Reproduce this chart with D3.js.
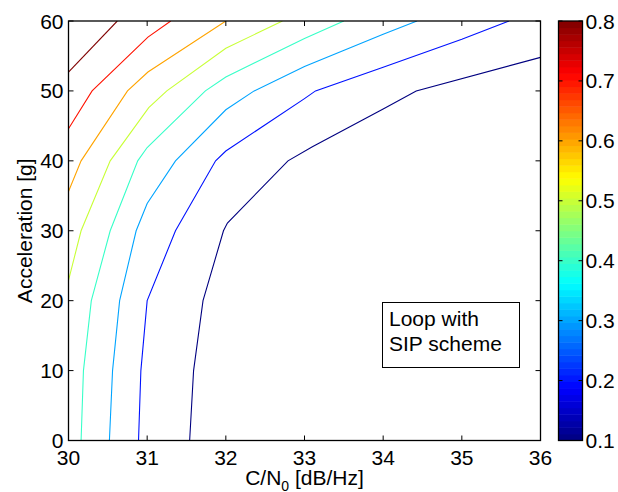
<!DOCTYPE html>
<html>
<head>
<meta charset="utf-8">
<script src="https://cdn.jsdelivr.net/npm/d3@7"></script>
<style>
  body { margin: 0; background: #fff; }
  text { font-family: "Liberation Sans", Arial, Helvetica, sans-serif; fill: #000; }
</style>
</head>
<body>
<script>
var width = 618,
    height = 492;

// plot box
var plotLeft = 68.5, plotRight = 540.5, plotTop = 21, plotBottom = 440.5;
var fontSize = 21;

// tick values
var xTicks = [30, 31, 32, 33, 34, 35, 36];
var yTicks = [0, 10, 20, 30, 40, 50, 60];
var cbTicks = [0.1, 0.2, 0.3, 0.4, 0.5, 0.6, 0.7, 0.8];

// contour levels and their lines, [C/N0, acceleration] pairs
var levels = [0.1, 0.2, 0.3, 0.4, 0.5, 0.6, 0.7, 0.8];

var line01 = [[31.54,0],[31.59,10],[31.71,20],[31.97,30],[32.02,31.1],[32.79,40],[33.1,42],[34.0,47.4],[34.42,50],[36,54.8]];
var line02 = [[30.89,0],[30.92,10],[31.0,20],[31.36,30],[31.87,40],[32.0,41.4],[33.0,48.9],[33.14,50],[34,53.4],[35,57.4],[35.6,60]];
var line03 = [[30.52,0],[30.56,10],[30.65,20],[30.86,30],[31.0,33.9],[31.36,40],[32,47.3],[32.36,50],[33.0,53.5],[34,58.1],[34.43,60]];
var line04 = [[30.16,0],[30.19,10],[30.29,20],[30.53,30],[30.88,40],[31.0,41.9],[31.74,50],[32.0,52],[33.0,57.5],[33.5,60]];
var line05 = [[30,22.9],[30.16,30],[30.53,40],[31.02,47.6],[31.25,50],[32,56.1],[32.72,60]];
var line06 = [[30,35.6],[30.16,40],[30.75,50],[31.01,52.7],[32,60]];
var line07 = [[30,44.6],[30.3,50],[31.01,57.7],[31.3,60]];
var line08 = [[30,52.7],[30.62,60]];

var contourLines = [line01, line02, line03, line04, line05, line06, line07, line08];

var legendLines = ["Loop with", "SIP scheme"];

// matlab jet
function jet(t) {
  function c(v) { return Math.max(0, Math.min(1, v)); }
  var r = c(1.5 - Math.abs(4*t - 3)),
      g = c(1.5 - Math.abs(4*t - 2)),
      b = c(1.5 - Math.abs(4*t - 1));
  return d3.rgb(r*255, g*255, b*255).toString();
}

var x = d3.scaleLinear().domain([30, 36]).range([plotLeft, plotRight]);
var y = d3.scaleLinear().domain([0, 60]).range([plotBottom, plotTop]);
var cmap = d3.scaleLinear().domain([0.1, 0.8]).range([0, 1]);

var svg = d3.select("body").append("svg")
    .attr("width", width)
    .attr("height", height);

svg.append("defs").append("clipPath")
    .attr("id", "plotclip")
  .append("rect")
    .attr("x", plotLeft).attr("y", plotTop)
    .attr("width", plotRight - plotLeft).attr("height", plotBottom - plotTop);

// CONTOURS
var line = d3.line()
    .x(function(d) { return x(d[0]); })
    .y(function(d) { return y(d[1]); });

svg.append("g")
    .attr("clip-path", "url(#plotclip)")
  .selectAll("path")
  .data(contourLines)
  .enter().append("path")
    .attr("d", line)
    .attr("fill", "none")
    .attr("stroke", function(d, i) { return jet(cmap(levels[i])); })
    .attr("stroke-width", 1.1);

// AXES BOX + TICKS
var axes = svg.append("g");
axes.append("rect")
    .attr("x", plotLeft).attr("y", plotTop)
    .attr("width", plotRight - plotLeft).attr("height", plotBottom - plotTop)
    .attr("fill", "none")
    .attr("stroke", "#000")
    .attr("stroke-width", 1.3);

var tickLen = 5;
xTicks.forEach(function(t) {
  axes.append("line").attr("x1", x(t)).attr("x2", x(t)).attr("y1", plotBottom).attr("y2", plotBottom - tickLen).attr("stroke", "#000");
  axes.append("line").attr("x1", x(t)).attr("x2", x(t)).attr("y1", plotTop).attr("y2", plotTop + tickLen).attr("stroke", "#000");
  axes.append("text")
    .attr("x", x(t)).attr("y", 465)
    .attr("text-anchor", "middle")
    .attr("font-size", fontSize)
    .text(t);
});

yTicks.forEach(function(t) {
  axes.append("line").attr("x1", plotLeft).attr("x2", plotLeft + tickLen).attr("y1", y(t)).attr("y2", y(t)).attr("stroke", "#000");
  axes.append("line").attr("x1", plotRight).attr("x2", plotRight - tickLen).attr("y1", y(t)).attr("y2", y(t)).attr("stroke", "#000");
  axes.append("text")
    .attr("x", 63.5).attr("y", y(t) + 7.5)
    .attr("text-anchor", "end")
    .attr("font-size", fontSize)
    .text(t);
});

// axis titles
var xt = svg.append("text")
    .attr("x", (plotLeft + plotRight) / 2)
    .attr("y", 485)
    .attr("text-anchor", "middle")
    .attr("font-size", fontSize);
xt.append("tspan").text("C/N");
xt.append("tspan").attr("dy", 6).attr("font-size", 14).text("0");
xt.append("tspan").attr("dy", -6).text(" [dB/Hz]");

svg.append("text")
    .attr("transform", "translate(31.5," + ((plotTop + plotBottom) / 2) + ") rotate(-90)")
    .attr("text-anchor", "middle")
    .attr("font-size", fontSize)
    .text("Acceleration [g]");

// LEGEND BOX
var lg = svg.append("g");
lg.append("rect")
    .attr("x", 382.5).attr("y", 302.5)
    .attr("width", 137).attr("height", 65)
    .attr("fill", "#fff")
    .attr("stroke", "#000")
    .attr("stroke-width", 1);
lg.selectAll("text")
  .data(legendLines)
  .enter().append("text")
    .attr("x", 389)
    .attr("y", function(d, i) { return 326 + i * 24.7; })
    .attr("font-size", fontSize)
    .text(function(d) { return d; });

// COLORBAR
var cbLeft = 558.5, cbRight = 582.5;
var cy = d3.scaleLinear().domain([0.1, 0.8]).range([plotBottom, plotTop]);
var nSteps = 64;
var steps = d3.range(nSteps);
var stepH = (plotBottom - plotTop) / nSteps;

svg.append("g")
  .selectAll("rect")
  .data(steps)
  .enter().append("rect")
    .attr("x", cbLeft)
    .attr("y", function(d) { return plotBottom - (d + 1) * stepH; })
    .attr("width", cbRight - cbLeft)
    .attr("height", stepH + 0.5)
    .attr("fill", function(d) { return jet((d + 0.5) / nSteps); });

svg.append("rect")
    .attr("x", cbLeft).attr("y", plotTop)
    .attr("width", cbRight - cbLeft).attr("height", plotBottom - plotTop)
    .attr("fill", "none")
    .attr("stroke", "#000")
    .attr("stroke-width", 1.3);

cbTicks.forEach(function(t) {
  svg.append("line").attr("x1", cbRight).attr("x2", cbRight - 4).attr("y1", cy(t)).attr("y2", cy(t)).attr("stroke", "#000");
  svg.append("line").attr("x1", cbLeft).attr("x2", cbLeft + 4).attr("y1", cy(t)).attr("y2", cy(t)).attr("stroke", "#000");
  svg.append("text")
    .attr("x", 585.5).attr("y", cy(t) + 7.5)
    .attr("font-size", fontSize)
    .text(t.toFixed(1));
});
</script>
</body>
</html>
